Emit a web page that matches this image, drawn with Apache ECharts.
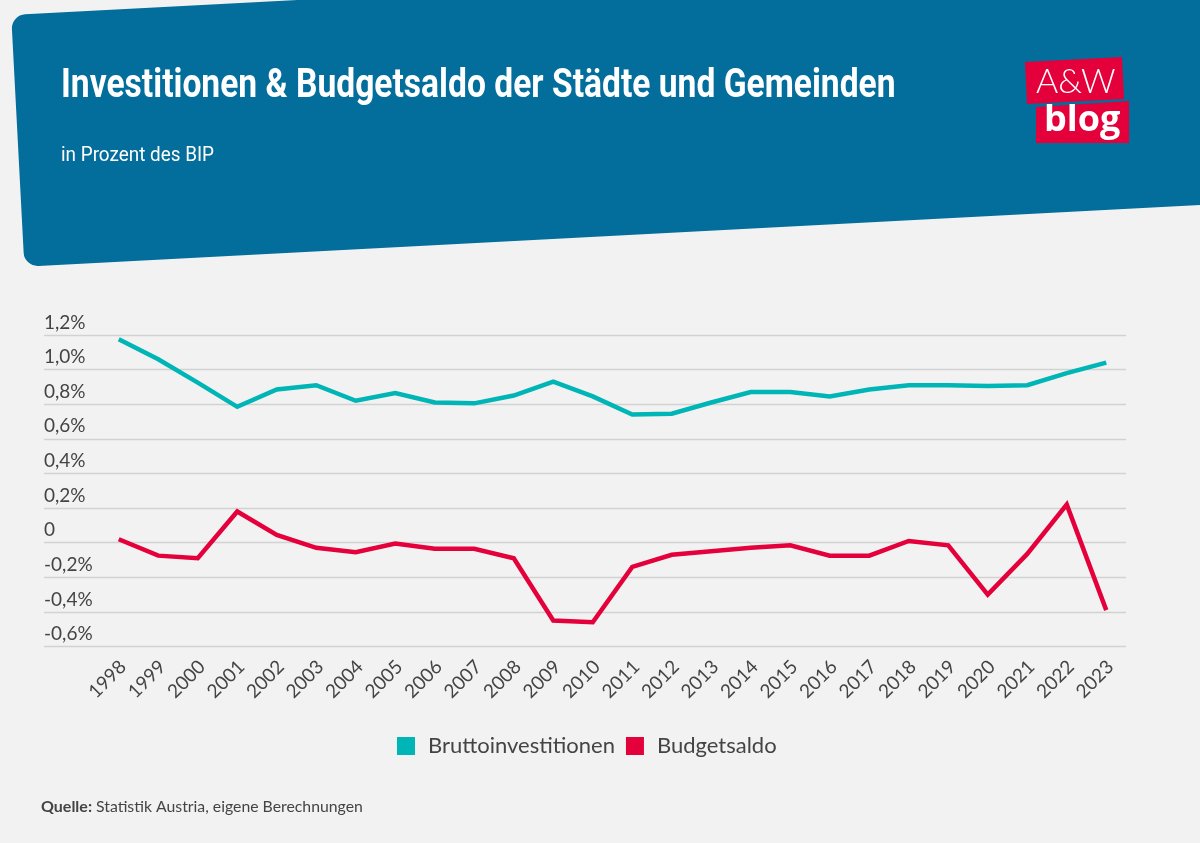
<!DOCTYPE html>
<html>
<head>
<meta charset="utf-8">
<style>
  html, body { margin: 0; padding: 0; background: #f2f2f2; }
  #chart { width: 1200px; height: 843px; }
</style>
</head>
<body>
<div id="chart"></div>
<script src="https://cdn.jsdelivr.net/npm/echarts@6/dist/echarts.min.js"></script>
<script>
const years = ['1998','1999','2000','2001','2002','2003','2004','2005','2006','2007','2008','2009','2010',
  '2011','2012','2013','2014','2015','2016','2017','2018','2019','2020','2021','2022','2023'];
const investitionen = [1.175,1.06,0.925,0.785,0.885,0.91,0.82,0.865,0.81,0.805,0.85,0.93,0.845,
  0.74,0.745,0.81,0.87,0.87,0.845,0.885,0.91,0.91,0.905,0.91,0.98,1.04];
const budgetsaldo = [0.02,-0.075,-0.09,0.18,0.045,-0.03,-0.055,-0.005,-0.035,-0.035,-0.09,-0.45,-0.46,
  -0.14,-0.07,-0.05,-0.03,-0.015,-0.075,-0.075,0.01,-0.015,-0.30,-0.065,0.22,-0.39];

const textColor = '#444444';
const bodyFont = 'Lato';
const headFont = 'Roboto';

var chart = echarts.init(document.getElementById('chart'));

var option = {
  backgroundColor: '#f2f2f2',
  animation: false,
  legend: {
    left: 392, top: 730,
    icon: 'rect',
    itemWidth: 18, itemHeight: 18,
    itemGap: 11,
    textStyle: { color: textColor, fontFamily: bodyFont, fontSize: 22, padding: [0, 0, 0, 8] }
  },
  // grid 0 holds the lines, grid 1 only the wider gridlines and the y labels
  grid: [
    { left: 99, right: 74, top: 335, bottom: 196.5 },
    { left: 44, right: 74, top: 335, bottom: 196.5 }
  ],
  xAxis: [
    {
      type: 'category',
      gridIndex: 0,
      data: years,
      axisLine: { show: false },
      axisTick: { show: false },
      axisLabel: {
        rotate: 45, margin: 13, interval: 0, verticalAlign: 'top', lineHeight: 12,
        color: textColor, fontFamily: bodyFont, fontSize: 19
      }
    },
    { type: 'value', gridIndex: 1, min: 0, max: 1, show: false }
  ],
  yAxis: [
    { type: 'value', gridIndex: 0, min: -0.6, max: 1.2, interval: 0.2, show: false },
    {
      type: 'value',
      gridIndex: 1,
      min: -0.6, max: 1.2, interval: 0.2,
      axisLine: { show: false },
      axisTick: { show: false },
      splitLine: { show: true, lineStyle: { color: '#d2d2d2', width: 1.3 } },
      axisLabel: {
        inside: true,
        margin: 0,
        verticalAlign: 'bottom',
        padding: [0, 0, 3, 0],
        showMaxLabel: true,
        showMinLabel: true,
        color: textColor,
        fontFamily: bodyFont,
        fontSize: 19,
        formatter: function (v) {
          if (Math.abs(v) < 1e-9) return '0';
          return v.toFixed(1).replace('.', ',') + '%';
        }
      }
    }
  ],
  series: [
    {
      name: 'Bruttoinvestitionen',
      type: 'line',
      data: investitionen,
      showSymbol: false,
      color: '#00b5b5',
      lineStyle: { width: 4.5, join: 'miter' }
    },
    {
      name: 'Budgetsaldo',
      type: 'line',
      data: budgetsaldo,
      showSymbol: false,
      color: '#e4003a',
      lineStyle: { width: 4.5, join: 'miter' }
    }
  ],
  graphic: [
    {
      // header band, a rounded box tilted by 3 degrees
      type: 'rect',
      x: 11.2, y: 15,
      rotation: 3 * Math.PI / 180,
      z: -10,
      shape: { x: 0, y: 0, width: 1400, height: 252, r: 14 },
      style: { fill: '#036d9c' }
    },
    {
      type: 'text', x: 61, y: 67, scaleX: 0.84, z: 6,
      style: {
        text: 'Investitionen & Budgetsaldo der Städte und Gemeinden',
        fill: '#fff', fontFamily: headFont, fontWeight: 'bold', fontSize: 40
      }
    },
    {
      type: 'text', x: 61, y: 145, scaleX: 0.9, z: 6,
      style: { text: 'in Prozent des BIP', fill: '#fff', fontFamily: headFont, fontSize: 21 }
    },
    {
      type: 'polygon',
      z: 5,
      shape: { points: [[1025, 62], [1122, 57], [1124, 99], [1027, 104]] },
      style: { fill: '#e4003a' }
    },
    {
      type: 'polygon',
      z: 5,
      shape: { points: [[1036, 107], [1129, 101], [1129, 143], [1036, 143]] },
      style: { fill: '#e4003a' }
    },
    {
      type: 'text', x: 1036, y: 65, z: 6,
      style: { text: 'A&W', fill: '#fff', fontFamily: 'Lato', fontWeight: 300, fontSize: 34 }
    },
    {
      type: 'text', x: 1044, y: 103, z: 6,
      style: { text: 'blog', fill: '#fff', fontFamily: 'Open Sans', fontWeight: 'bold', fontSize: 36 }
    },
    {
      type: 'text', x: 41, y: 799, z: 6,
      style: { text: 'Quelle:', fill: textColor, fontFamily: bodyFont, fontWeight: 'bold', fontSize: 16 }
    },
    {
      type: 'text', x: 96, y: 799, z: 6,
      style: { text: 'Statistik Austria, eigene Berechnungen', fill: textColor, fontFamily: bodyFont, fontSize: 15.8 }
    }
  ]
};

option && chart.setOption(option);
</script>
</body>
</html>
